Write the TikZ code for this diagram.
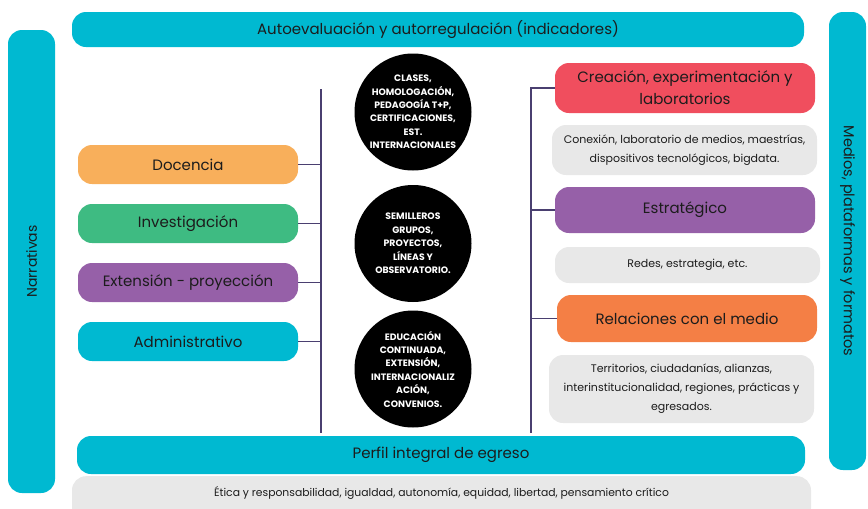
\documentclass[tikz,border=0pt]{standalone}
\usepackage{fontspec}
\setmainfont{Poppins}
\definecolor{cy}{HTML}{00B9D1}
\definecolor{orA}{HTML}{F8AF5B}
\definecolor{grn}{HTML}{3EBB82}
\definecolor{pur}{HTML}{9660A8}
\definecolor{redc}{HTML}{F04E5E}
\definecolor{orB}{HTML}{F47F45}
\definecolor{gry}{HTML}{E8E8E8}
\definecolor{lnc}{HTML}{4A3F70}
\definecolor{txt}{HTML}{1C1C1C}
\begin{document}
\begin{tikzpicture}[x=1pt,y=-1pt,
  base/.style={rectangle, rounded corners=14pt, text=txt, align=center, inner sep=0pt},
  bigtxt/.style={font=\fontsize{15}{22}\selectfont},
  smalltxt/.style={font=\fontsize{11}{19}\selectfont},
  leftbox/.style={base, bigtxt, minimum width=220pt, minimum height=39pt},
  rightbox/.style={base, bigtxt, minimum width=260pt},
  graybox/.style={base, smalltxt, fill=gry, minimum width=265pt},
  circ/.style={circle, fill=black, minimum size=117pt, inner sep=0pt, text=white, align=center,
               font=\fontsize{9.3}{13.4}\selectfont\bfseries},
  bus/.style={draw=lnc, line width=1.4pt}
]
\useasboundingbox (0,0) rectangle (868,509);

% frame bars
\node[base, bigtxt, fill=cy, minimum width=732pt, minimum height=35pt] (top) at (438,29.5)
  {Autoevaluación y autorregulación (indicadores)};
\node[base, fill=cy, minimum width=47pt, minimum height=463pt] (narr) at (31.5,261.5) {};
\node[text=txt, font=\fontsize{14}{16}\selectfont, rotate=90] (narrtxt) at (narr.center) {Narrativas};
\node[base, fill=cy, minimum width=37pt, minimum height=458pt] (med) at (847.5,241) {};
\node[text=txt, font=\fontsize{14.5}{16}\selectfont, rotate=-90] (medtxt) at (med.center) {Medios, plataformas y formatos};

% left boxes
\node[leftbox, fill=orA] (doc) at (188,164.5) {Docencia};
\node[leftbox, fill=grn] (inv) at (188,223.5) {Investigación};
\node[leftbox, fill=pur] (ext) at (188,282.5) {Extensión - proyección};
\node[leftbox, fill=cy]  (adm) at (188,341.5) {Administrativo};

% circles
\node[circ] (c1) at (413,112) {CLASES,\\HOMOLOGACIÓN,\\PEDAGOGÍA T+P,\\CERTIFICACIONES,\\EST.\\INTERNACIONALES};
\node[circ] (c2) at (413,243.5) {SEMILLEROS\\GRUPOS,\\PROYECTOS,\\LÍNEAS Y\\OBSERVATORIO.};
\node[circ] (c3) at (413,369) {EDUCACIÓN\\CONTINUADA,\\EXTENSIÓN,\\INTERNACIONALIZ\\ACIÓN,\\CONVENIOS.};

% right boxes
\node[rightbox, fill=redc, minimum height=50pt] (cre) at (685,88) {Creación, experimentación y\\laboratorios};
\node[graybox, minimum height=50pt] (g1) at (684.5,150) {Conexión, laboratorio de medios, maestrías,\\dispositivos tecnológicos, bigdata.};
\node[rightbox, fill=pur, minimum height=46pt] (est) at (685,210) {Estratégico};
\node[graybox, minimum height=36pt] (g2) at (687.5,265) {Redes, estrategia, etc.};
\node[rightbox, fill=orB, minimum height=47pt] (rel) at (687,318.5) {Relaciones con el medio};
\node[graybox, minimum height=68pt] (g3) at (681.5,389) {Territorios, ciudadanías, alianzas,\\interinstitucionalidad, regiones, prácticas y\\egresados.};

% buses
\coordinate (lt) at (321,89);
\coordinate (lb) at (321,433);
\draw[bus] (lt) -- (lb);
\foreach \n in {doc,inv,ext,adm} \draw[bus] (\n.east) -- (\n.east -| lt);
\coordinate (rt) at (531,88);
\coordinate (rb) at (531,433);
\draw[bus] (cre.west) -- (rt) -- (rb);
\draw[bus] (est.west) -- (est.west -| rt);
\draw[bus] (rel.west) -- (rel.west -| rt);

% bottom
\node[base, bigtxt, fill=cy, minimum width=728pt, minimum height=38pt] (perf) at (441,455) {Perfil integral de egreso};
\node[base, fill=gry, minimum width=739pt, minimum height=46pt, anchor=north] (etica) at (441.5,476) {};
\node[text=txt, font=\fontsize{10.8}{12}\selectfont] (eticatxt) at (441.5,493)
  {Ética y responsabilidad, igualdad, autonomía, equidad, libertad, pensamiento crítico};
\end{tikzpicture}
\end{document}
